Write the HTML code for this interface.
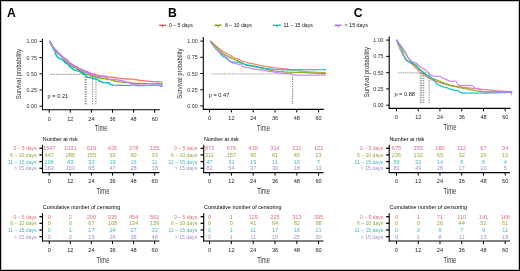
<!DOCTYPE html>
<html><head><meta charset="utf-8"><style>
html,body{margin:0;padding:0;background:#fff;}
#w{will-change:transform;width:520px;height:271px;}
svg{display:block;font-family:"Liberation Sans",sans-serif;}
</style></head><body>
<div id="w"><svg width="520" height="271" viewBox="0 0 520 271">
<rect x="0.5" y="0.5" width="519" height="270" fill="#fff" stroke="#000" stroke-width="1"/>
<rect x="1.5" y="1.5" width="517" height="268" fill="none" stroke="#c4c4c4" stroke-width="1"/>
<text x="7.00" y="16.50" font-size="12.2" fill="#000" font-weight="bold">A</text>
<line x1="42.50" y1="38.70" x2="42.50" y2="110.30" stroke="#000" stroke-width="1.1"/>
<line x1="42.00" y1="109.70" x2="159.80" y2="109.70" stroke="#000" stroke-width="1.1"/>
<line x1="39.50" y1="41.40" x2="42.50" y2="41.40" stroke="#000" stroke-width="1.0"/>
<text x="36.90" y="43.45" font-size="5.7" fill="#333" text-anchor="end" textLength="10.4" lengthAdjust="spacingAndGlyphs">1.00</text>
<line x1="39.50" y1="57.60" x2="42.50" y2="57.60" stroke="#000" stroke-width="1.0"/>
<text x="36.90" y="59.65" font-size="5.7" fill="#333" text-anchor="end" textLength="10.4" lengthAdjust="spacingAndGlyphs">0.75</text>
<line x1="39.50" y1="73.80" x2="42.50" y2="73.80" stroke="#000" stroke-width="1.0"/>
<text x="36.90" y="75.85" font-size="5.7" fill="#333" text-anchor="end" textLength="10.4" lengthAdjust="spacingAndGlyphs">0.50</text>
<line x1="39.50" y1="90.00" x2="42.50" y2="90.00" stroke="#000" stroke-width="1.0"/>
<text x="36.90" y="92.05" font-size="5.7" fill="#333" text-anchor="end" textLength="10.4" lengthAdjust="spacingAndGlyphs">0.25</text>
<line x1="39.50" y1="106.20" x2="42.50" y2="106.20" stroke="#000" stroke-width="1.0"/>
<text x="36.90" y="108.25" font-size="5.7" fill="#333" text-anchor="end" textLength="10.4" lengthAdjust="spacingAndGlyphs">0.00</text>
<line x1="49.20" y1="109.70" x2="49.20" y2="112.70" stroke="#000" stroke-width="1.0"/>
<text x="49.20" y="120.70" font-size="5.5" fill="#222" text-anchor="middle">0</text>
<line x1="70.30" y1="109.70" x2="70.30" y2="112.70" stroke="#000" stroke-width="1.0"/>
<text x="70.30" y="120.70" font-size="5.5" fill="#222" text-anchor="middle">12</text>
<line x1="91.40" y1="109.70" x2="91.40" y2="112.70" stroke="#000" stroke-width="1.0"/>
<text x="91.40" y="120.70" font-size="5.5" fill="#222" text-anchor="middle">24</text>
<line x1="112.50" y1="109.70" x2="112.50" y2="112.70" stroke="#000" stroke-width="1.0"/>
<text x="112.50" y="120.70" font-size="5.5" fill="#222" text-anchor="middle">36</text>
<line x1="133.60" y1="109.70" x2="133.60" y2="112.70" stroke="#000" stroke-width="1.0"/>
<text x="133.60" y="120.70" font-size="5.5" fill="#222" text-anchor="middle">48</text>
<line x1="154.70" y1="109.70" x2="154.70" y2="112.70" stroke="#000" stroke-width="1.0"/>
<text x="154.70" y="120.70" font-size="5.5" fill="#222" text-anchor="middle">60</text>
<text x="0" y="0" font-size="7.7" fill="#2a2a2a" text-anchor="middle" textLength="50.2" lengthAdjust="spacingAndGlyphs" transform="translate(21.30,74.20) rotate(-90)">Survival probability</text>
<text x="101.20" y="131.00" font-size="8.8" fill="#3a3a3a" text-anchor="middle" textLength="12.8" lengthAdjust="spacingAndGlyphs">Time</text>
<line x1="50.40" y1="74.30" x2="96.00" y2="74.30" stroke="#666" stroke-width="0.7" stroke-dasharray="2,0.8"/>
<line x1="85.20" y1="74.30" x2="85.20" y2="104.50" stroke="#555" stroke-width="0.8" stroke-dasharray="1.2,1.2"/>
<line x1="86.10" y1="74.30" x2="86.10" y2="104.50" stroke="#555" stroke-width="0.8" stroke-dasharray="1.2,1.2"/>
<line x1="92.60" y1="74.30" x2="92.60" y2="104.50" stroke="#555" stroke-width="0.8" stroke-dasharray="1.2,1.2"/>
<line x1="95.90" y1="74.30" x2="95.90" y2="104.50" stroke="#555" stroke-width="0.8" stroke-dasharray="1.2,1.2"/>
<path d="M49.40,41.40 H49.75 V42.03 H50.05 V42.58 H50.35 V43.13 H50.71 V43.79 H51.10 V44.50 H51.49 V45.22 H52.02 V46.04 H52.45 V46.62 H52.98 V47.33 H53.59 V48.17 H53.99 V48.71 H54.48 V49.37 H54.91 V49.93 H55.34 V50.48 H55.92 V51.24 H56.58 V52.09 H57.22 V52.92 H58.07 V53.60 H58.89 V54.26 H59.71 V54.92 H60.39 V55.47 H61.29 V56.19 H62.42 V57.04 H63.33 V57.68 H64.11 V58.22 H65.00 V58.85 H66.19 V59.68 H67.13 V60.55 H67.75 V61.19 H68.50 V61.96 H69.29 V62.78 H70.09 V63.42 H70.97 V63.99 H71.89 V64.59 H73.20 V65.45 H74.56 V66.28 H75.76 V66.88 H77.39 V67.69 H78.73 V68.37 H80.17 V69.07 H81.08 V69.52 H82.46 V70.19 H83.63 V70.75 H85.91 V71.64 H87.55 V72.28 H88.67 V72.71 H90.22 V73.26 H91.83 V73.84 H94.39 V74.74 H95.84 V75.02 H97.14 V75.28 H98.99 V75.63 H100.22 V75.81 H102.10 V76.09 H104.20 V76.38 H106.19 V76.59 H107.10 V76.69 H109.14 V76.91 H110.49 V77.09 H112.16 V77.41 H114.52 V77.83 H116.90 V78.09 H118.02 V78.21 H119.08 V78.32 H121.26 V78.56 H122.89 V78.73 H124.99 V78.89 H126.99 V79.01 H129.58 V79.16 H131.94 V79.30 H134.53 V79.66 H136.96 V80.00 H138.83 V80.27 H140.42 V80.49 H141.60 V80.64 H143.93 V80.86 H145.66 V81.03 H147.39 V81.20 H148.79 V81.33 H150.25 V81.48 H152.01 V81.58 H154.00 V81.69 H155.43 V81.77 H156.58 V81.83 H158.49 V81.93 H161.00 V82.00 H162.40 V82.00" fill="none" stroke="#F8766D" stroke-width="1.1" stroke-linejoin="miter" stroke-linecap="butt"/>
<path d="M55.2,49.6v1.4M58.5,53.2v1.4M59.9,54.4v1.4M62.8,56.6v1.4M65.0,58.2v1.4M66.1,58.9v1.4M67.5,60.2v1.4M70.2,62.8v1.4M73.1,64.7v1.4M74.4,65.5v1.4M77.0,66.8v1.4M80.1,68.3v1.4M81.6,69.1v1.4M84.6,70.4v1.4M85.9,70.9v1.4M87.2,71.5v1.4M90.1,72.5v1.4M93.2,73.6v1.4M95.8,74.3v1.4M98.0,74.7v1.4M100.5,75.2v1.4M102.8,75.5v1.4M105.2,75.8v1.4M108.4,76.1v1.4M110.5,76.4v1.4M112.1,76.7v1.4M113.7,77.0v1.4M115.9,77.3v1.4M118.7,77.6v1.4M120.6,77.8v1.4M122.2,78.0v1.4M123.5,78.1v1.4M126.2,78.3v1.4M127.2,78.3v1.4M129.1,78.4v1.4M130.5,78.5v1.4M133.2,78.8v1.4M135.9,79.1v1.4M138.5,79.5v1.4M139.7,79.7v1.4M141.3,79.9v1.4M143.0,80.1v1.4M146.1,80.4v1.4M149.3,80.7v1.4M152.1,80.9v1.4M154.4,81.0v1.4M156.4,81.1v1.4M158.8,81.3v1.4M161.1,81.3v1.4" stroke="#F8766D" stroke-width="0.5"/>
<path d="M49.40,41.40 H49.81 V42.23 H50.19 V42.97 H50.57 V43.73 H50.90 V44.39 H51.19 V44.98 H51.48 V45.57 H51.93 V46.26 H52.63 V47.06 H53.16 V47.66 H53.75 V48.34 H54.43 V49.12 H55.07 V49.79 H55.92 V50.67 H56.76 V51.54 H57.43 V52.23 H58.05 V52.85 H58.93 V53.73 H59.82 V54.62 H60.45 V55.25 H61.07 V55.87 H61.79 V56.59 H62.34 V57.42 H62.88 V58.25 H63.39 V59.03 H63.78 V59.63 H64.18 V60.24 H64.64 V60.94 H65.23 V61.68 H66.16 V62.41 H66.88 V62.97 H67.76 V63.66 H68.49 V64.23 H69.44 V64.97 H70.84 V65.75 H72.37 V66.54 H73.89 V67.34 H75.30 V68.14 H76.56 V68.88 H77.47 V69.42 H78.58 V70.07 H79.60 V70.59 H81.14 V71.35 H82.65 V72.08 H84.12 V72.69 H85.07 V72.98 H87.52 V73.72 H88.70 V74.58 H89.22 V75.17 H90.63 V75.91 H93.00 V76.63 H95.26 V77.21 H97.31 V77.61 H99.35 V78.00 H101.44 V78.41 H103.12 V78.73 H105.64 V79.13 H106.71 V79.29 H108.30 V79.54 H109.83 V79.77 H111.56 V80.28 H113.88 V81.00 H114.91 V81.21 H116.52 V81.45 H118.17 V81.70 H119.72 V81.93 H121.66 V82.22 H123.74 V82.52 H125.71 V82.67 H127.47 V82.80 H128.99 V82.92 H131.57 V83.11 H133.86 V83.24 H135.88 V83.32 H136.93 V83.36 H138.49 V83.42 H140.57 V83.50 H141.79 V83.55 H143.42 V83.61 H145.06 V83.67 H146.19 V83.70 H148.52 V83.72 H150.93 V83.73 H152.31 V83.74 H153.48 V83.75 H154.82 V83.75 H156.94 V83.77 H158.21 V83.77 H160.37 V83.79 H162.40 V83.80" fill="none" stroke="#7CAE00" stroke-width="1.1" stroke-linejoin="miter" stroke-linecap="butt"/>
<path d="M55.2,49.2v1.4M56.4,50.5v1.4M59.0,53.1v1.4M61.7,55.8v1.4M64.1,59.4v1.4M66.6,62.1v1.4M68.3,63.4v1.4M69.6,64.4v1.4M72.8,66.1v1.4M74.2,66.8v1.4M77.3,68.6v1.4M80.2,70.2v1.4M82.1,71.1v1.4M84.2,72.0v1.4M85.9,72.5v1.4M87.4,73.0v1.4M90.3,75.1v1.4M91.5,75.5v1.4M93.0,75.9v1.4M96.3,76.7v1.4M98.1,77.1v1.4M100.5,77.5v1.4M102.9,78.0v1.4M105.5,78.4v1.4M108.5,78.9v1.4M111.3,79.5v1.4M113.0,80.0v1.4M114.8,80.5v1.4M118.1,81.0v1.4M121.2,81.5v1.4M123.2,81.8v1.4M124.9,81.9v1.4M126.8,82.1v1.4M129.7,82.3v1.4M131.3,82.4v1.4M132.4,82.5v1.4M133.6,82.5v1.4M135.1,82.6v1.4M138.2,82.7v1.4M139.5,82.8v1.4M140.8,82.8v1.4M143.6,82.9v1.4M146.6,83.0v1.4M149.9,83.0v1.4M153.0,83.0v1.4M156.2,83.1v1.4M159.1,83.1v1.4" stroke="#7CAE00" stroke-width="0.5"/>
<path d="M49.40,41.40 H49.74 V42.01 H50.19 V42.81 H50.62 V43.58 H51.10 V44.43 H51.57 V45.27 H51.86 V45.83 H52.19 V46.51 H52.46 V47.06 H52.85 V47.87 H53.18 V48.54 H53.55 V49.28 H53.90 V49.86 H54.32 V50.55 H54.78 V51.30 H55.09 V52.38 H55.42 V53.85 H55.76 V54.52 H56.21 V55.41 H56.62 V56.24 H57.35 V57.05 H58.19 V57.75 H59.08 V58.48 H60.59 V59.22 H61.67 V59.74 H63.00 V60.61 H64.01 V61.30 H64.58 V61.69 H64.88 V62.46 H65.79 V63.20 H67.04 V63.82 H67.97 V64.55 H68.36 V65.38 H68.96 V66.27 H69.84 V66.83 H71.00 V67.58 H71.92 V68.34 H72.46 V68.91 H73.22 V69.72 H74.70 V70.50 H75.87 V70.81 H78.12 V71.22 H79.27 V71.82 H80.81 V72.60 H82.31 V73.34 H83.53 V73.92 H84.49 V74.67 H85.43 V75.43 H86.04 V76.04 H86.87 V76.87 H87.91 V77.52 H89.53 V77.76 H90.58 V77.92 H92.00 V78.27 H92.91 V78.49 H94.37 V78.86 H96.16 V79.50 H97.40 V80.06 H98.75 V80.92 H99.74 V81.56 H101.00 V82.00 H102.34 V82.45 H103.92 V82.75 H106.12 V82.84 H107.62 V82.54 H108.87 V83.41 H109.76 V84.16 H110.44 V84.72 H112.80 V85.23 H114.72 V85.27 H116.89 V85.31 H118.83 V85.35 H120.42 V85.38 H121.49 V85.40 H122.63 V85.42 H123.83 V85.44 H125.03 V85.46 H126.18 V85.48 H127.43 V85.46 H129.28 V85.23 H131.49 V84.95 H133.75 V85.04 H136.09 V85.58 H137.19 V85.69 H139.48 V85.64 H140.70 V85.61 H141.72 V85.59 H143.11 V85.56 H145.01 V85.52 H145.99 V85.49 H147.26 V85.44 H148.84 V85.37 H151.13 V85.28 H152.71 V85.21 H154.32 V85.14 H155.85 V85.08 H156.90 V85.03 H159.30 V84.93 H161.77 V84.83 H162.40 V84.80" fill="none" stroke="#00BFC4" stroke-width="1.1" stroke-linejoin="miter" stroke-linecap="butt"/>
<path d="M55.2,52.2v1.4M57.1,56.2v1.4M59.2,57.8v1.4M60.9,58.7v1.4M63.4,60.2v1.4M65.9,62.6v1.4M67.7,63.4v1.4M70.7,66.7v1.4M73.4,69.1v1.4M74.9,69.9v1.4M77.8,70.4v1.4M80.4,71.7v1.4M81.9,72.5v1.4M83.6,73.3v1.4M86.4,75.7v1.4M87.6,76.7v1.4M89.6,77.1v1.4M92.8,77.8v1.4M94.4,78.2v1.4M96.6,79.0v1.4M99.7,80.9v1.4M102.8,81.8v1.4M105.6,82.2v1.4M107.9,81.9v1.4M111.0,84.5v1.4M112.6,84.5v1.4M115.7,84.6v1.4M117.6,84.6v1.4M120.2,84.7v1.4M122.6,84.7v1.4M124.3,84.7v1.4M126.8,84.8v1.4M129.3,84.5v1.4M132.6,84.1v1.4M135.1,84.7v1.4M137.1,85.0v1.4M139.0,84.9v1.4M142.1,84.9v1.4M143.9,84.8v1.4M146.5,84.8v1.4M149.1,84.7v1.4M152.3,84.5v1.4M153.8,84.5v1.4M156.3,84.4v1.4M157.7,84.3v1.4M160.2,84.2v1.4" stroke="#00BFC4" stroke-width="0.5"/>
<path d="M49.40,41.40 H49.90 V42.28 H50.31 V43.02 H50.77 V43.84 H51.10 V44.43 H51.53 V45.20 H52.00 V45.96 H52.37 V46.54 H52.74 V47.12 H53.21 V47.86 H53.79 V48.65 H54.47 V49.47 H54.98 V50.09 H55.66 V50.90 H56.26 V51.61 H56.77 V52.23 H57.25 V52.79 H57.77 V53.41 H58.37 V54.02 H59.03 V54.56 H60.10 V55.44 H60.93 V56.12 H61.92 V56.97 H62.66 V57.61 H63.57 V58.39 H64.19 V59.15 H64.82 V59.96 H65.83 V60.81 H66.58 V61.37 H67.53 V62.07 H68.34 V62.67 H69.10 V63.23 H70.02 V63.87 H70.98 V64.47 H71.95 V65.08 H73.13 V65.83 H74.07 V66.42 H75.39 V67.09 H76.64 V67.72 H78.12 V68.46 H79.24 V69.02 H80.43 V69.60 H81.36 V70.05 H82.96 V70.84 H84.35 V71.53 H85.86 V72.30 H87.45 V73.11 H88.97 V73.88 H91.14 V74.67 H92.56 V75.10 H93.52 V75.39 H95.68 V75.89 H97.23 V76.19 H98.20 V76.38 H99.60 V76.58 H100.77 V76.71 H103.36 V76.99 H104.69 V77.12 H106.42 V77.31 H107.39 V77.57 H107.69 V78.19 H108.07 V78.95 H109.01 V79.27 H110.93 V79.43 H113.28 V79.62 H114.99 V79.80 H116.82 V80.02 H119.31 V80.32 H120.92 V80.52 H122.77 V81.19 H125.17 V82.07 H127.21 V82.26 H128.98 V82.42 H130.45 V82.93 H131.15 V83.48 H132.47 V84.35 H134.62 V84.73 H135.88 V84.83 H137.29 V84.88 H139.10 V84.95 H140.19 V84.99 H142.40 V85.07 H143.75 V85.12 H145.15 V85.18 H146.51 V85.20 H147.78 V85.20 H150.11 V85.20 H151.64 V85.20 H152.69 V85.20 H154.95 V85.20 H157.18 V85.20 H158.18 V85.20 H159.32 V85.76 H160.29 V86.41 H162.05 V85.20 H162.40 V85.20" fill="none" stroke="#C77CFF" stroke-width="1.1" stroke-linejoin="miter" stroke-linecap="butt"/>
<path d="M55.2,49.7v1.4M56.8,51.6v1.4M59.7,54.4v1.4M61.1,55.5v1.4M62.8,57.1v1.4M64.8,59.3v1.4M66.8,60.8v1.4M69.1,62.5v1.4M71.4,64.0v1.4M72.8,64.9v1.4M73.9,65.6v1.4M75.8,66.6v1.4M77.6,67.5v1.4M79.6,68.5v1.4M80.8,69.1v1.4M83.8,70.5v1.4M85.0,71.2v1.4M86.3,71.8v1.4M88.3,72.9v1.4M90.7,73.8v1.4M91.9,74.2v1.4M94.9,75.0v1.4M97.0,75.4v1.4M99.6,75.9v1.4M101.6,76.1v1.4M103.7,76.3v1.4M105.6,76.5v1.4M107.5,77.2v1.4M109.5,78.6v1.4M112.0,78.8v1.4M114.7,79.1v1.4M117.0,79.3v1.4M118.3,79.5v1.4M119.8,79.7v1.4M121.9,80.1v1.4M123.5,80.8v1.4M125.3,81.4v1.4M128.1,81.6v1.4M131.3,82.9v1.4M132.5,83.7v1.4M134.1,83.9v1.4M136.2,84.1v1.4M137.5,84.2v1.4M140.4,84.3v1.4M143.7,84.4v1.4M146.5,84.5v1.4M149.3,84.5v1.4M151.0,84.5v1.4M152.5,84.5v1.4M153.7,84.5v1.4M155.8,84.5v1.4M157.7,84.5v1.4M158.9,84.6v1.4M161.5,84.5v1.4" stroke="#C77CFF" stroke-width="0.5"/>
<text x="47.60" y="97.60" font-size="5.7" fill="#1a1a1a" textLength="20.6" lengthAdjust="spacingAndGlyphs">p = 0.21</text>
<text x="42.80" y="140.50" font-size="5.0" fill="#000" textLength="34.8" lengthAdjust="spacingAndGlyphs">Number at risk</text>
<line x1="42.50" y1="144.80" x2="42.50" y2="173.10" stroke="#000" stroke-width="1.1"/>
<line x1="42.00" y1="172.60" x2="159.40" y2="172.60" stroke="#000" stroke-width="1.1"/>
<line x1="39.40" y1="148.30" x2="42.50" y2="148.30" stroke="#000" stroke-width="1.3"/>
<text x="36.60" y="150.30" font-size="6.0" fill="#E0707A" text-anchor="end" textLength="23.2" lengthAdjust="spacingAndGlyphs">0 – 5 days</text>
<text x="49.20" y="150.30" font-size="5.6" fill="#E0707A" text-anchor="middle">1547</text>
<text x="70.30" y="150.30" font-size="5.6" fill="#E0707A" text-anchor="middle">1031</text>
<text x="91.40" y="150.30" font-size="5.6" fill="#E0707A" text-anchor="middle">619</text>
<text x="112.50" y="150.30" font-size="5.6" fill="#E0707A" text-anchor="middle">426</text>
<text x="133.60" y="150.30" font-size="5.6" fill="#E0707A" text-anchor="middle">278</text>
<text x="154.70" y="150.30" font-size="5.6" fill="#E0707A" text-anchor="middle">155</text>
<line x1="39.40" y1="154.90" x2="42.50" y2="154.90" stroke="#000" stroke-width="1.3"/>
<text x="36.60" y="156.90" font-size="6.0" fill="#8FAE3A" text-anchor="end" textLength="26.3" lengthAdjust="spacingAndGlyphs">6 – 10 days</text>
<text x="49.20" y="156.90" font-size="5.6" fill="#8FAE3A" text-anchor="middle">447</text>
<text x="70.30" y="156.90" font-size="5.6" fill="#8FAE3A" text-anchor="middle">289</text>
<text x="91.40" y="156.90" font-size="5.6" fill="#8FAE3A" text-anchor="middle">155</text>
<text x="112.50" y="156.90" font-size="5.6" fill="#8FAE3A" text-anchor="middle">93</text>
<text x="133.60" y="156.90" font-size="5.6" fill="#8FAE3A" text-anchor="middle">60</text>
<text x="154.70" y="156.90" font-size="5.6" fill="#8FAE3A" text-anchor="middle">33</text>
<line x1="39.40" y1="161.60" x2="42.50" y2="161.60" stroke="#000" stroke-width="1.3"/>
<text x="36.60" y="163.60" font-size="6.0" fill="#4DB8C6" text-anchor="end" textLength="28.9" lengthAdjust="spacingAndGlyphs">11 – 15 days</text>
<text x="49.20" y="163.60" font-size="5.6" fill="#4DB8C6" text-anchor="middle">106</text>
<text x="70.30" y="163.60" font-size="5.6" fill="#4DB8C6" text-anchor="middle">63</text>
<text x="91.40" y="163.60" font-size="5.6" fill="#4DB8C6" text-anchor="middle">33</text>
<text x="112.50" y="163.60" font-size="5.6" fill="#4DB8C6" text-anchor="middle">19</text>
<text x="133.60" y="163.60" font-size="5.6" fill="#4DB8C6" text-anchor="middle">16</text>
<text x="154.70" y="163.60" font-size="5.6" fill="#4DB8C6" text-anchor="middle">11</text>
<line x1="39.40" y1="168.30" x2="42.50" y2="168.30" stroke="#000" stroke-width="1.3"/>
<text x="36.60" y="170.30" font-size="6.0" fill="#A98AD6" text-anchor="end" textLength="22.6" lengthAdjust="spacingAndGlyphs">> 15 days</text>
<text x="49.20" y="170.30" font-size="5.6" fill="#A98AD6" text-anchor="middle">163</text>
<text x="70.30" y="170.30" font-size="5.6" fill="#A98AD6" text-anchor="middle">103</text>
<text x="91.40" y="170.30" font-size="5.6" fill="#A98AD6" text-anchor="middle">65</text>
<text x="112.50" y="170.30" font-size="5.6" fill="#A98AD6" text-anchor="middle">47</text>
<text x="133.60" y="170.30" font-size="5.6" fill="#A98AD6" text-anchor="middle">28</text>
<text x="154.70" y="170.30" font-size="5.6" fill="#A98AD6" text-anchor="middle">18</text>
<line x1="49.20" y1="172.60" x2="49.20" y2="175.60" stroke="#000" stroke-width="1.0"/>
<text x="49.20" y="183.30" font-size="5.6" fill="#222" text-anchor="middle">0</text>
<line x1="70.30" y1="172.60" x2="70.30" y2="175.60" stroke="#000" stroke-width="1.0"/>
<text x="70.30" y="183.30" font-size="5.6" fill="#222" text-anchor="middle">12</text>
<line x1="91.40" y1="172.60" x2="91.40" y2="175.60" stroke="#000" stroke-width="1.0"/>
<text x="91.40" y="183.30" font-size="5.6" fill="#222" text-anchor="middle">24</text>
<line x1="112.50" y1="172.60" x2="112.50" y2="175.60" stroke="#000" stroke-width="1.0"/>
<text x="112.50" y="183.30" font-size="5.6" fill="#222" text-anchor="middle">36</text>
<line x1="133.60" y1="172.60" x2="133.60" y2="175.60" stroke="#000" stroke-width="1.0"/>
<text x="133.60" y="183.30" font-size="5.6" fill="#222" text-anchor="middle">48</text>
<line x1="154.70" y1="172.60" x2="154.70" y2="175.60" stroke="#000" stroke-width="1.0"/>
<text x="154.70" y="183.30" font-size="5.6" fill="#222" text-anchor="middle">60</text>
<text x="103.00" y="194.10" font-size="8.8" fill="#3a3a3a" text-anchor="middle" textLength="12.9" lengthAdjust="spacingAndGlyphs">Time</text>
<text x="42.80" y="208.90" font-size="5.0" fill="#000" textLength="77.5" lengthAdjust="spacingAndGlyphs">Cumulative number of censoring</text>
<line x1="42.50" y1="213.20" x2="42.50" y2="241.50" stroke="#000" stroke-width="1.1"/>
<line x1="42.00" y1="241.00" x2="159.40" y2="241.00" stroke="#000" stroke-width="1.1"/>
<line x1="39.40" y1="216.70" x2="42.50" y2="216.70" stroke="#000" stroke-width="1.3"/>
<text x="36.60" y="218.70" font-size="6.0" fill="#E0707A" text-anchor="end" textLength="23.2" lengthAdjust="spacingAndGlyphs">0 – 5 days</text>
<text x="49.20" y="218.70" font-size="5.6" fill="#E0707A" text-anchor="middle">0</text>
<text x="70.30" y="218.70" font-size="5.6" fill="#E0707A" text-anchor="middle">2</text>
<text x="91.40" y="218.70" font-size="5.6" fill="#E0707A" text-anchor="middle">200</text>
<text x="112.50" y="218.70" font-size="5.6" fill="#E0707A" text-anchor="middle">335</text>
<text x="133.60" y="218.70" font-size="5.6" fill="#E0707A" text-anchor="middle">454</text>
<text x="154.70" y="218.70" font-size="5.6" fill="#E0707A" text-anchor="middle">561</text>
<line x1="39.40" y1="223.30" x2="42.50" y2="223.30" stroke="#000" stroke-width="1.3"/>
<text x="36.60" y="225.30" font-size="6.0" fill="#8FAE3A" text-anchor="end" textLength="26.3" lengthAdjust="spacingAndGlyphs">6 – 10 days</text>
<text x="49.20" y="225.30" font-size="5.6" fill="#8FAE3A" text-anchor="middle">0</text>
<text x="70.30" y="225.30" font-size="5.6" fill="#8FAE3A" text-anchor="middle">0</text>
<text x="91.40" y="225.30" font-size="5.6" fill="#8FAE3A" text-anchor="middle">67</text>
<text x="112.50" y="225.30" font-size="5.6" fill="#8FAE3A" text-anchor="middle">108</text>
<text x="133.60" y="225.30" font-size="5.6" fill="#8FAE3A" text-anchor="middle">134</text>
<text x="154.70" y="225.30" font-size="5.6" fill="#8FAE3A" text-anchor="middle">159</text>
<line x1="39.40" y1="230.00" x2="42.50" y2="230.00" stroke="#000" stroke-width="1.3"/>
<text x="36.60" y="232.00" font-size="6.0" fill="#4DB8C6" text-anchor="end" textLength="28.9" lengthAdjust="spacingAndGlyphs">11 – 15 days</text>
<text x="49.20" y="232.00" font-size="5.6" fill="#4DB8C6" text-anchor="middle">0</text>
<text x="70.30" y="232.00" font-size="5.6" fill="#4DB8C6" text-anchor="middle">1</text>
<text x="91.40" y="232.00" font-size="5.6" fill="#4DB8C6" text-anchor="middle">17</text>
<text x="112.50" y="232.00" font-size="5.6" fill="#4DB8C6" text-anchor="middle">24</text>
<text x="133.60" y="232.00" font-size="5.6" fill="#4DB8C6" text-anchor="middle">27</text>
<text x="154.70" y="232.00" font-size="5.6" fill="#4DB8C6" text-anchor="middle">32</text>
<line x1="39.40" y1="236.70" x2="42.50" y2="236.70" stroke="#000" stroke-width="1.3"/>
<text x="36.60" y="238.70" font-size="6.0" fill="#A98AD6" text-anchor="end" textLength="22.6" lengthAdjust="spacingAndGlyphs">> 15 days</text>
<text x="49.20" y="238.70" font-size="5.6" fill="#A98AD6" text-anchor="middle">0</text>
<text x="70.30" y="238.70" font-size="5.6" fill="#A98AD6" text-anchor="middle">2</text>
<text x="91.40" y="238.70" font-size="5.6" fill="#A98AD6" text-anchor="middle">19</text>
<text x="112.50" y="238.70" font-size="5.6" fill="#A98AD6" text-anchor="middle">26</text>
<text x="133.60" y="238.70" font-size="5.6" fill="#A98AD6" text-anchor="middle">38</text>
<text x="154.70" y="238.70" font-size="5.6" fill="#A98AD6" text-anchor="middle">48</text>
<line x1="49.20" y1="241.00" x2="49.20" y2="244.00" stroke="#000" stroke-width="1.0"/>
<text x="49.20" y="251.70" font-size="5.6" fill="#222" text-anchor="middle">0</text>
<line x1="70.30" y1="241.00" x2="70.30" y2="244.00" stroke="#000" stroke-width="1.0"/>
<text x="70.30" y="251.70" font-size="5.6" fill="#222" text-anchor="middle">12</text>
<line x1="91.40" y1="241.00" x2="91.40" y2="244.00" stroke="#000" stroke-width="1.0"/>
<text x="91.40" y="251.70" font-size="5.6" fill="#222" text-anchor="middle">24</text>
<line x1="112.50" y1="241.00" x2="112.50" y2="244.00" stroke="#000" stroke-width="1.0"/>
<text x="112.50" y="251.70" font-size="5.6" fill="#222" text-anchor="middle">36</text>
<line x1="133.60" y1="241.00" x2="133.60" y2="244.00" stroke="#000" stroke-width="1.0"/>
<text x="133.60" y="251.70" font-size="5.6" fill="#222" text-anchor="middle">48</text>
<line x1="154.70" y1="241.00" x2="154.70" y2="244.00" stroke="#000" stroke-width="1.0"/>
<text x="154.70" y="251.70" font-size="5.6" fill="#222" text-anchor="middle">60</text>
<text x="103.00" y="262.50" font-size="8.8" fill="#3a3a3a" text-anchor="middle" textLength="12.9" lengthAdjust="spacingAndGlyphs">Time</text>
<text x="168.00" y="16.50" font-size="12.2" fill="#000" font-weight="bold">B</text>
<line x1="203.30" y1="37.00" x2="203.30" y2="110.00" stroke="#000" stroke-width="1.1"/>
<line x1="202.80" y1="109.40" x2="323.80" y2="109.40" stroke="#000" stroke-width="1.1"/>
<line x1="200.30" y1="41.10" x2="203.30" y2="41.10" stroke="#000" stroke-width="1.0"/>
<text x="197.70" y="43.15" font-size="5.7" fill="#333" text-anchor="end" textLength="10.4" lengthAdjust="spacingAndGlyphs">1.00</text>
<line x1="200.30" y1="57.30" x2="203.30" y2="57.30" stroke="#000" stroke-width="1.0"/>
<text x="197.70" y="59.35" font-size="5.7" fill="#333" text-anchor="end" textLength="10.4" lengthAdjust="spacingAndGlyphs">0.75</text>
<line x1="200.30" y1="73.50" x2="203.30" y2="73.50" stroke="#000" stroke-width="1.0"/>
<text x="197.70" y="75.55" font-size="5.7" fill="#333" text-anchor="end" textLength="10.4" lengthAdjust="spacingAndGlyphs">0.50</text>
<line x1="200.30" y1="89.70" x2="203.30" y2="89.70" stroke="#000" stroke-width="1.0"/>
<text x="197.70" y="91.75" font-size="5.7" fill="#333" text-anchor="end" textLength="10.4" lengthAdjust="spacingAndGlyphs">0.25</text>
<line x1="200.30" y1="105.90" x2="203.30" y2="105.90" stroke="#000" stroke-width="1.0"/>
<text x="197.70" y="107.95" font-size="5.7" fill="#333" text-anchor="end" textLength="10.4" lengthAdjust="spacingAndGlyphs">0.00</text>
<line x1="209.60" y1="109.40" x2="209.60" y2="112.40" stroke="#000" stroke-width="1.0"/>
<text x="209.60" y="120.40" font-size="5.5" fill="#222" text-anchor="middle">0</text>
<line x1="231.40" y1="109.40" x2="231.40" y2="112.40" stroke="#000" stroke-width="1.0"/>
<text x="231.40" y="120.40" font-size="5.5" fill="#222" text-anchor="middle">12</text>
<line x1="253.20" y1="109.40" x2="253.20" y2="112.40" stroke="#000" stroke-width="1.0"/>
<text x="253.20" y="120.40" font-size="5.5" fill="#222" text-anchor="middle">24</text>
<line x1="275.00" y1="109.40" x2="275.00" y2="112.40" stroke="#000" stroke-width="1.0"/>
<text x="275.00" y="120.40" font-size="5.5" fill="#222" text-anchor="middle">36</text>
<line x1="296.80" y1="109.40" x2="296.80" y2="112.40" stroke="#000" stroke-width="1.0"/>
<text x="296.80" y="120.40" font-size="5.5" fill="#222" text-anchor="middle">48</text>
<line x1="318.60" y1="109.40" x2="318.60" y2="112.40" stroke="#000" stroke-width="1.0"/>
<text x="318.60" y="120.40" font-size="5.5" fill="#222" text-anchor="middle">60</text>
<text x="0" y="0" font-size="7.7" fill="#2a2a2a" text-anchor="middle" textLength="50.2" lengthAdjust="spacingAndGlyphs" transform="translate(182.30,73.60) rotate(-90)">Survival probability</text>
<text x="263.50" y="130.70" font-size="8.8" fill="#3a3a3a" text-anchor="middle" textLength="12.8" lengthAdjust="spacingAndGlyphs">Time</text>
<line x1="211.10" y1="73.90" x2="292.60" y2="73.90" stroke="#bbb" stroke-width="1.3" stroke-dasharray="1.8,0.8"/>
<line x1="292.60" y1="73.90" x2="292.60" y2="103.90" stroke="#444" stroke-width="0.8" stroke-dasharray="1.2,1.2"/>
<path d="M210.20,41.20 H211.22 V42.08 H212.20 V42.93 H212.99 V43.62 H213.99 V44.48 H214.79 V45.17 H215.64 V45.90 H216.31 V46.48 H217.09 V47.15 H217.98 V47.93 H218.61 V48.47 H219.62 V49.35 H220.74 V50.23 H221.55 V50.85 H222.56 V51.53 H224.08 V52.42 H225.27 V53.11 H226.55 V53.84 H228.23 V54.72 H229.28 V55.27 H230.36 V55.85 H231.76 V56.67 H232.68 V57.21 H234.21 V58.11 H235.65 V58.68 H237.76 V59.52 H239.84 V60.38 H241.38 V61.02 H242.63 V61.50 H244.07 V61.93 H245.79 V62.45 H247.21 V62.79 H248.61 V63.09 H249.85 V63.35 H252.31 V63.87 H254.86 V64.41 H257.25 V64.92 H259.50 V65.39 H261.09 V65.71 H262.52 V65.99 H264.11 V66.30 H265.04 V66.45 H266.14 V66.62 H267.84 V66.90 H269.45 V67.15 H271.46 V67.47 H273.31 V67.77 H274.38 V67.89 H276.72 V68.11 H278.35 V68.27 H280.06 V68.44 H281.59 V68.59 H283.12 V68.73 H285.58 V68.97 H288.12 V69.31 H289.33 V69.52 H291.79 V69.95 H294.07 V70.34 H296.37 V70.65 H297.75 V70.80 H300.18 V71.06 H302.07 V71.26 H303.75 V71.44 H304.71 V71.54 H306.49 V71.73 H307.68 V71.83 H309.07 V71.90 H311.44 V72.03 H312.93 V72.10 H315.21 V72.22 H316.74 V72.30 H317.83 V72.36 H319.41 V72.44 H320.59 V72.50 H321.75 V72.56 H323.80 V72.68 H325.88 V72.79 H326.00 V72.80" fill="none" stroke="#F8766D" stroke-width="1.0" stroke-linejoin="miter" stroke-linecap="butt"/>
<path d="M215.6,45.2v1.4M218.3,47.5v1.4M220.6,49.4v1.4M221.8,50.3v1.4M223.0,51.1v1.4M225.7,52.6v1.4M228.8,54.3v1.4M231.7,55.9v1.4M234.1,57.3v1.4M235.3,57.8v1.4M238.0,58.9v1.4M239.1,59.4v1.4M242.0,60.6v1.4M243.2,61.0v1.4M246.4,61.9v1.4M248.6,62.4v1.4M250.1,62.7v1.4M251.3,63.0v1.4M252.9,63.3v1.4M255.5,63.9v1.4M257.2,64.2v1.4M258.4,64.5v1.4M261.1,65.0v1.4M262.5,65.3v1.4M263.9,65.6v1.4M265.4,65.8v1.4M266.7,66.0v1.4M268.3,66.3v1.4M269.5,66.5v1.4M270.5,66.6v1.4M271.8,66.8v1.4M273.7,67.1v1.4M276.8,67.4v1.4M279.8,67.7v1.4M282.1,67.9v1.4M283.5,68.1v1.4M286.6,68.4v1.4M288.3,68.6v1.4M290.5,69.0v1.4M292.8,69.4v1.4M294.8,69.8v1.4M296.3,69.9v1.4M299.4,70.3v1.4M300.6,70.4v1.4M302.4,70.6v1.4M305.0,70.9v1.4M306.7,71.1v1.4M307.7,71.1v1.4M308.9,71.2v1.4M311.6,71.3v1.4M313.9,71.5v1.4M315.7,71.5v1.4M318.7,71.7v1.4M321.2,71.8v1.4M322.6,71.9v1.4M324.1,72.0v1.4" stroke="#F8766D" stroke-width="0.5"/>
<path d="M210.20,41.20 H210.83 V41.83 H211.68 V42.68 H212.31 V43.31 H212.86 V43.86 H213.45 V44.45 H214.17 V45.17 H214.91 V45.91 H215.76 V46.78 H216.59 V47.64 H217.18 V48.27 H217.88 V48.99 H218.73 V49.88 H219.55 V50.74 H220.16 V51.36 H220.87 V52.07 H221.74 V52.94 H223.04 V53.83 H224.03 V54.44 H225.21 V55.16 H226.55 V55.93 H227.48 V56.39 H228.80 V57.05 H230.29 V57.79 H231.42 V58.34 H232.63 V58.94 H234.12 V59.66 H235.56 V60.28 H237.24 V60.99 H238.73 V61.66 H239.88 V62.22 H241.33 V62.93 H242.62 V63.56 H244.09 V64.29 H245.36 V64.93 H247.33 V65.62 H249.17 V66.00 H251.64 V66.52 H252.75 V66.70 H254.28 V66.89 H256.56 V67.18 H258.58 V67.66 H260.54 V68.10 H262.55 V68.50 H264.26 V68.84 H266.11 V69.31 H267.74 V69.73 H270.25 V70.37 H271.61 V70.72 H272.95 V71.06 H274.38 V71.27 H275.55 V71.35 H277.50 V71.50 H279.38 V71.64 H280.40 V71.71 H281.72 V71.81 H284.13 V71.99 H285.48 V72.09 H287.52 V72.21 H289.12 V72.25 H290.30 V72.28 H292.85 V72.33 H294.83 V72.38 H296.15 V72.41 H298.03 V72.45 H299.44 V72.48 H301.69 V72.57 H302.62 V72.62 H304.26 V72.70 H306.24 V72.80 H308.39 V72.92 H309.46 V72.97 H310.45 V73.03 H312.12 V73.11 H314.03 V73.21 H315.71 V73.26 H316.72 V73.30 H318.07 V73.34 H320.17 V73.41 H321.95 V73.47 H324.46 V73.55 H325.45 V73.58 H326.00 V73.60" fill="none" stroke="#7CAE00" stroke-width="1.0" stroke-linejoin="miter" stroke-linecap="butt"/>
<path d="M215.6,45.9v1.4M218.0,48.4v1.4M220.0,50.5v1.4M221.2,51.7v1.4M223.0,53.1v1.4M224.8,54.2v1.4M226.2,55.0v1.4M229.1,56.5v1.4M230.3,57.1v1.4M231.4,57.6v1.4M234.5,59.1v1.4M237.7,60.5v1.4M240.3,61.7v1.4M242.4,62.8v1.4M245.1,64.1v1.4M246.2,64.7v1.4M247.8,65.0v1.4M250.0,65.5v1.4M251.2,65.7v1.4M254.3,66.2v1.4M256.7,66.5v1.4M258.2,66.9v1.4M260.6,67.4v1.4M263.6,68.0v1.4M266.1,68.6v1.4M269.2,69.4v1.4M272.0,70.1v1.4M274.3,70.6v1.4M277.4,70.8v1.4M280.5,71.0v1.4M282.1,71.1v1.4M283.6,71.3v1.4M285.0,71.4v1.4M287.6,71.5v1.4M290.5,71.6v1.4M292.8,71.6v1.4M296.1,71.7v1.4M297.9,71.7v1.4M299.4,71.8v1.4M301.2,71.8v1.4M303.8,72.0v1.4M305.9,72.1v1.4M309.0,72.3v1.4M310.9,72.3v1.4M313.9,72.5v1.4M316.6,72.6v1.4M318.8,72.7v1.4M322.1,72.8v1.4M324.7,72.9v1.4" stroke="#7CAE00" stroke-width="0.5"/>
<path d="M210.20,41.20 H210.61 V41.86 H210.97 V42.44 H211.45 V43.20 H211.91 V43.92 H212.37 V44.66 H212.72 V45.22 H213.21 V46.00 H213.60 V46.62 H214.22 V47.42 H214.83 V48.03 H215.41 V48.61 H216.31 V49.51 H216.85 V50.05 H217.73 V50.93 H218.25 V51.45 H218.72 V52.03 H219.17 V52.58 H219.89 V53.48 H220.33 V54.03 H220.87 V54.69 H221.58 V55.57 H222.49 V56.35 H223.75 V56.97 H225.26 V57.85 H226.37 V58.56 H227.25 V59.21 H228.07 V59.96 H228.77 V60.60 H229.50 V61.25 H230.61 V61.88 H231.52 V62.04 H233.09 V62.20 H235.30 V62.20 H237.17 V62.34 H238.39 V62.65 H240.72 V63.34 H243.18 V64.22 H244.48 V64.54 H246.14 V64.96 H248.13 V65.26 H250.56 V65.60 H251.68 V65.75 H253.52 V66.18 H256.06 V66.81 H258.00 V67.15 H260.12 V67.52 H262.34 V67.96 H264.10 V68.30 H265.49 V68.48 H267.39 V68.72 H269.19 V68.95 H270.68 V69.14 H273.03 V69.44 H274.54 V69.53 H276.27 V69.58 H278.46 V69.65 H280.75 V69.72 H283.16 V69.79 H285.17 V69.85 H286.50 V69.89 H288.84 V69.96 H291.28 V70.03 H293.40 V70.09 H295.60 V69.72 H297.37 V69.70 H299.11 V69.70 H301.00 V69.70 H302.15 V69.70 H304.20 V69.70 H306.57 V69.70 H307.75 V69.70 H309.93 V69.70 H312.03 V69.70 H313.13 V69.70 H314.12 V69.70 H316.03 V69.70 H317.31 V69.70 H318.73 V69.70 H320.69 V69.70 H322.70 V69.70 H324.87 V69.70 H326.00 V69.70" fill="none" stroke="#00BFC4" stroke-width="1.0" stroke-linejoin="miter" stroke-linecap="butt"/>
<path d="M215.6,48.1v1.4M217.4,49.9v1.4M218.4,50.9v1.4M219.7,52.5v1.4M221.1,54.3v1.4M223.3,56.1v1.4M226.0,57.6v1.4M227.5,58.8v1.4M229.4,60.5v1.4M232.6,61.5v1.4M234.5,61.5v1.4M237.2,61.7v1.4M239.7,62.3v1.4M242.2,63.2v1.4M244.3,63.8v1.4M246.6,64.3v1.4M249.2,64.7v1.4M250.6,64.9v1.4M253.5,65.5v1.4M256.5,66.2v1.4M257.6,66.4v1.4M259.1,66.6v1.4M260.6,66.9v1.4M261.9,67.2v1.4M263.2,67.4v1.4M265.7,67.8v1.4M267.0,68.0v1.4M268.1,68.1v1.4M271.3,68.5v1.4M273.3,68.8v1.4M275.5,68.9v1.4M277.6,68.9v1.4M279.4,69.0v1.4M281.5,69.0v1.4M283.0,69.1v1.4M285.3,69.2v1.4M286.9,69.2v1.4M288.2,69.2v1.4M289.7,69.3v1.4M291.7,69.3v1.4M294.9,69.2v1.4M297.3,69.0v1.4M300.5,69.0v1.4M302.5,69.0v1.4M304.1,69.0v1.4M306.7,69.0v1.4M308.2,69.0v1.4M311.5,69.0v1.4M313.4,69.0v1.4M315.1,69.0v1.4M316.7,69.0v1.4M318.4,69.0v1.4M321.6,69.0v1.4M324.9,69.0v1.4" stroke="#00BFC4" stroke-width="0.5"/>
<path d="M210.20,41.20 H210.67 V41.95 H211.10 V42.63 H211.44 V43.17 H211.86 V43.84 H212.20 V44.39 H212.60 V45.02 H212.99 V45.64 H213.39 V46.28 H213.93 V47.13 H214.75 V47.95 H215.32 V48.52 H215.87 V49.07 H216.46 V49.66 H217.17 V50.37 H217.73 V50.93 H218.31 V51.51 H218.86 V52.06 H219.61 V52.81 H220.80 V53.68 H221.95 V54.46 H223.14 V55.26 H224.02 V55.84 H225.05 V56.62 H226.15 V57.50 H227.05 V58.25 H227.92 V59.12 H228.63 V59.83 H229.29 V60.49 H229.81 V61.04 H230.52 V61.77 H231.08 V62.36 H232.34 V63.08 H233.80 V63.26 H235.40 V63.55 H236.74 V64.05 H238.17 V64.59 H240.01 V64.31 H240.90 V64.59 H241.17 V65.13 H241.49 V65.78 H242.04 V66.64 H243.42 V67.04 H245.84 V67.51 H247.75 V67.70 H249.20 V67.96 H250.54 V68.51 H252.88 V69.16 H255.48 V69.32 H257.48 V69.51 H259.66 V69.80 H261.82 V70.12 H264.00 V70.48 H265.65 V70.80 H267.94 V71.25 H269.93 V71.63 H272.39 V72.04 H274.82 V72.40 H276.20 V72.60 H277.96 V72.87 H279.52 V73.10 H280.62 V73.22 H282.02 V73.30 H284.58 V73.44 H286.12 V73.53 H287.22 V73.59 H288.88 V73.68 H290.84 V73.79 H292.21 V74.45 H293.69 V75.20 H295.65 V75.20 H296.99 V75.20 H299.56 V75.20 H301.23 V75.20 H303.49 V75.20 H305.94 V75.20 H308.04 V75.20 H309.73 V75.20 H311.82 V75.20 H313.68 V75.20 H315.75 V75.15 H318.29 V75.09 H319.82 V75.05 H321.28 V75.02 H322.66 V74.98 H324.35 V74.94 H326.00 V74.90" fill="none" stroke="#C77CFF" stroke-width="1.0" stroke-linejoin="miter" stroke-linecap="butt"/>
<path d="M215.6,48.1v1.4M217.4,49.9v1.4M219.6,52.1v1.4M222.9,54.4v1.4M224.5,55.5v1.4M225.7,56.5v1.4M226.8,57.4v1.4M229.6,60.1v1.4M230.7,61.3v1.4M232.6,62.4v1.4M235.1,62.8v1.4M237.3,63.6v1.4M239.5,63.7v1.4M241.9,65.9v1.4M242.9,66.2v1.4M245.4,66.8v1.4M247.9,67.0v1.4M251.2,68.1v1.4M253.2,68.5v1.4M255.5,68.6v1.4M256.6,68.7v1.4M258.6,69.0v1.4M259.7,69.1v1.4M262.0,69.5v1.4M263.4,69.7v1.4M266.2,70.2v1.4M267.6,70.5v1.4M269.0,70.8v1.4M270.9,71.1v1.4M273.8,71.5v1.4M275.7,71.8v1.4M278.9,72.3v1.4M281.5,72.6v1.4M283.0,72.7v1.4M285.8,72.8v1.4M287.1,72.9v1.4M289.8,73.0v1.4M292.1,73.7v1.4M294.5,74.5v1.4M297.6,74.5v1.4M299.9,74.5v1.4M301.8,74.5v1.4M303.5,74.5v1.4M306.0,74.5v1.4M308.7,74.5v1.4M310.8,74.5v1.4M313.3,74.5v1.4M316.0,74.4v1.4M318.1,74.4v1.4M319.3,74.4v1.4M321.8,74.3v1.4M322.9,74.3v1.4M324.7,74.2v1.4" stroke="#C77CFF" stroke-width="0.5"/>
<text x="208.70" y="97.00" font-size="5.7" fill="#1a1a1a" textLength="20.6" lengthAdjust="spacingAndGlyphs">p = 0.47</text>
<text x="204.00" y="140.50" font-size="5.0" fill="#000" textLength="34.8" lengthAdjust="spacingAndGlyphs">Number at risk</text>
<line x1="203.70" y1="144.80" x2="203.70" y2="173.10" stroke="#000" stroke-width="1.1"/>
<line x1="203.20" y1="172.60" x2="323.50" y2="172.60" stroke="#000" stroke-width="1.1"/>
<line x1="200.60" y1="148.30" x2="203.70" y2="148.30" stroke="#000" stroke-width="1.3"/>
<text x="197.30" y="150.30" font-size="6.0" fill="#E0707A" text-anchor="end" textLength="23.2" lengthAdjust="spacingAndGlyphs">0 – 5 days</text>
<text x="209.60" y="150.30" font-size="5.6" fill="#E0707A" text-anchor="middle">872</text>
<text x="231.40" y="150.30" font-size="5.6" fill="#E0707A" text-anchor="middle">676</text>
<text x="253.20" y="150.30" font-size="5.6" fill="#E0707A" text-anchor="middle">439</text>
<text x="275.00" y="150.30" font-size="5.6" fill="#E0707A" text-anchor="middle">314</text>
<text x="296.80" y="150.30" font-size="5.6" fill="#E0707A" text-anchor="middle">211</text>
<text x="318.60" y="150.30" font-size="5.6" fill="#E0707A" text-anchor="middle">121</text>
<line x1="200.60" y1="154.90" x2="203.70" y2="154.90" stroke="#000" stroke-width="1.3"/>
<text x="197.30" y="156.90" font-size="6.0" fill="#8FAE3A" text-anchor="end" textLength="26.3" lengthAdjust="spacingAndGlyphs">6 – 10 days</text>
<text x="209.60" y="156.90" font-size="5.6" fill="#8FAE3A" text-anchor="middle">211</text>
<text x="231.40" y="156.90" font-size="5.6" fill="#8FAE3A" text-anchor="middle">157</text>
<text x="253.20" y="156.90" font-size="5.6" fill="#8FAE3A" text-anchor="middle">90</text>
<text x="275.00" y="156.90" font-size="5.6" fill="#8FAE3A" text-anchor="middle">61</text>
<text x="296.80" y="156.90" font-size="5.6" fill="#8FAE3A" text-anchor="middle">40</text>
<text x="318.60" y="156.90" font-size="5.6" fill="#8FAE3A" text-anchor="middle">23</text>
<line x1="200.60" y1="161.60" x2="203.70" y2="161.60" stroke="#000" stroke-width="1.3"/>
<text x="197.30" y="163.60" font-size="6.0" fill="#4DB8C6" text-anchor="end" textLength="28.9" lengthAdjust="spacingAndGlyphs">11 – 15 days</text>
<text x="209.60" y="163.60" font-size="5.6" fill="#4DB8C6" text-anchor="middle">47</text>
<text x="231.40" y="163.60" font-size="5.6" fill="#4DB8C6" text-anchor="middle">31</text>
<text x="253.20" y="163.60" font-size="5.6" fill="#4DB8C6" text-anchor="middle">19</text>
<text x="275.00" y="163.60" font-size="5.6" fill="#4DB8C6" text-anchor="middle">11</text>
<text x="296.80" y="163.60" font-size="5.6" fill="#4DB8C6" text-anchor="middle">10</text>
<text x="318.60" y="163.60" font-size="5.6" fill="#4DB8C6" text-anchor="middle">7</text>
<line x1="200.60" y1="168.30" x2="203.70" y2="168.30" stroke="#000" stroke-width="1.3"/>
<text x="197.30" y="170.30" font-size="6.0" fill="#A98AD6" text-anchor="end" textLength="22.6" lengthAdjust="spacingAndGlyphs">> 15 days</text>
<text x="209.60" y="170.30" font-size="5.6" fill="#A98AD6" text-anchor="middle">82</text>
<text x="231.40" y="170.30" font-size="5.6" fill="#A98AD6" text-anchor="middle">54</text>
<text x="253.20" y="170.30" font-size="5.6" fill="#A98AD6" text-anchor="middle">37</text>
<text x="275.00" y="170.30" font-size="5.6" fill="#A98AD6" text-anchor="middle">30</text>
<text x="296.80" y="170.30" font-size="5.6" fill="#A98AD6" text-anchor="middle">18</text>
<text x="318.60" y="170.30" font-size="5.6" fill="#A98AD6" text-anchor="middle">13</text>
<line x1="209.60" y1="172.60" x2="209.60" y2="175.60" stroke="#000" stroke-width="1.0"/>
<text x="209.60" y="183.30" font-size="5.6" fill="#222" text-anchor="middle">0</text>
<line x1="231.40" y1="172.60" x2="231.40" y2="175.60" stroke="#000" stroke-width="1.0"/>
<text x="231.40" y="183.30" font-size="5.6" fill="#222" text-anchor="middle">12</text>
<line x1="253.20" y1="172.60" x2="253.20" y2="175.60" stroke="#000" stroke-width="1.0"/>
<text x="253.20" y="183.30" font-size="5.6" fill="#222" text-anchor="middle">24</text>
<line x1="275.00" y1="172.60" x2="275.00" y2="175.60" stroke="#000" stroke-width="1.0"/>
<text x="275.00" y="183.30" font-size="5.6" fill="#222" text-anchor="middle">36</text>
<line x1="296.80" y1="172.60" x2="296.80" y2="175.60" stroke="#000" stroke-width="1.0"/>
<text x="296.80" y="183.30" font-size="5.6" fill="#222" text-anchor="middle">48</text>
<line x1="318.60" y1="172.60" x2="318.60" y2="175.60" stroke="#000" stroke-width="1.0"/>
<text x="318.60" y="183.30" font-size="5.6" fill="#222" text-anchor="middle">60</text>
<text x="263.60" y="194.10" font-size="8.8" fill="#3a3a3a" text-anchor="middle" textLength="12.9" lengthAdjust="spacingAndGlyphs">Time</text>
<text x="204.00" y="208.90" font-size="5.0" fill="#000" textLength="77.5" lengthAdjust="spacingAndGlyphs">Cumulative number of censoring</text>
<line x1="203.70" y1="213.20" x2="203.70" y2="241.50" stroke="#000" stroke-width="1.1"/>
<line x1="203.20" y1="241.00" x2="323.50" y2="241.00" stroke="#000" stroke-width="1.1"/>
<line x1="200.60" y1="216.70" x2="203.70" y2="216.70" stroke="#000" stroke-width="1.3"/>
<text x="197.30" y="218.70" font-size="6.0" fill="#E0707A" text-anchor="end" textLength="23.2" lengthAdjust="spacingAndGlyphs">0 – 5 days</text>
<text x="209.60" y="218.70" font-size="5.6" fill="#E0707A" text-anchor="middle">0</text>
<text x="231.40" y="218.70" font-size="5.6" fill="#E0707A" text-anchor="middle">1</text>
<text x="253.20" y="218.70" font-size="5.6" fill="#E0707A" text-anchor="middle">129</text>
<text x="275.00" y="218.70" font-size="5.6" fill="#E0707A" text-anchor="middle">225</text>
<text x="296.80" y="218.70" font-size="5.6" fill="#E0707A" text-anchor="middle">313</text>
<text x="318.60" y="218.70" font-size="5.6" fill="#E0707A" text-anchor="middle">395</text>
<line x1="200.60" y1="223.30" x2="203.70" y2="223.30" stroke="#000" stroke-width="1.3"/>
<text x="197.30" y="225.30" font-size="6.0" fill="#8FAE3A" text-anchor="end" textLength="26.3" lengthAdjust="spacingAndGlyphs">6 – 10 days</text>
<text x="209.60" y="225.30" font-size="5.6" fill="#8FAE3A" text-anchor="middle">0</text>
<text x="231.40" y="225.30" font-size="5.6" fill="#8FAE3A" text-anchor="middle">0</text>
<text x="253.20" y="225.30" font-size="5.6" fill="#8FAE3A" text-anchor="middle">41</text>
<text x="275.00" y="225.30" font-size="5.6" fill="#8FAE3A" text-anchor="middle">64</text>
<text x="296.80" y="225.30" font-size="5.6" fill="#8FAE3A" text-anchor="middle">82</text>
<text x="318.60" y="225.30" font-size="5.6" fill="#8FAE3A" text-anchor="middle">98</text>
<line x1="200.60" y1="230.00" x2="203.70" y2="230.00" stroke="#000" stroke-width="1.3"/>
<text x="197.30" y="232.00" font-size="6.0" fill="#4DB8C6" text-anchor="end" textLength="28.9" lengthAdjust="spacingAndGlyphs">11 – 15 days</text>
<text x="209.60" y="232.00" font-size="5.6" fill="#4DB8C6" text-anchor="middle">0</text>
<text x="231.40" y="232.00" font-size="5.6" fill="#4DB8C6" text-anchor="middle">1</text>
<text x="253.20" y="232.00" font-size="5.6" fill="#4DB8C6" text-anchor="middle">11</text>
<text x="275.00" y="232.00" font-size="5.6" fill="#4DB8C6" text-anchor="middle">17</text>
<text x="296.80" y="232.00" font-size="5.6" fill="#4DB8C6" text-anchor="middle">18</text>
<text x="318.60" y="232.00" font-size="5.6" fill="#4DB8C6" text-anchor="middle">21</text>
<line x1="200.60" y1="236.70" x2="203.70" y2="236.70" stroke="#000" stroke-width="1.3"/>
<text x="197.30" y="238.70" font-size="6.0" fill="#A98AD6" text-anchor="end" textLength="22.6" lengthAdjust="spacingAndGlyphs">> 15 days</text>
<text x="209.60" y="238.70" font-size="5.6" fill="#A98AD6" text-anchor="middle">0</text>
<text x="231.40" y="238.70" font-size="5.6" fill="#A98AD6" text-anchor="middle">1</text>
<text x="253.20" y="238.70" font-size="5.6" fill="#A98AD6" text-anchor="middle">11</text>
<text x="275.00" y="238.70" font-size="5.6" fill="#A98AD6" text-anchor="middle">15</text>
<text x="296.80" y="238.70" font-size="5.6" fill="#A98AD6" text-anchor="middle">25</text>
<text x="318.60" y="238.70" font-size="5.6" fill="#A98AD6" text-anchor="middle">30</text>
<line x1="209.60" y1="241.00" x2="209.60" y2="244.00" stroke="#000" stroke-width="1.0"/>
<text x="209.60" y="251.70" font-size="5.6" fill="#222" text-anchor="middle">0</text>
<line x1="231.40" y1="241.00" x2="231.40" y2="244.00" stroke="#000" stroke-width="1.0"/>
<text x="231.40" y="251.70" font-size="5.6" fill="#222" text-anchor="middle">12</text>
<line x1="253.20" y1="241.00" x2="253.20" y2="244.00" stroke="#000" stroke-width="1.0"/>
<text x="253.20" y="251.70" font-size="5.6" fill="#222" text-anchor="middle">24</text>
<line x1="275.00" y1="241.00" x2="275.00" y2="244.00" stroke="#000" stroke-width="1.0"/>
<text x="275.00" y="251.70" font-size="5.6" fill="#222" text-anchor="middle">36</text>
<line x1="296.80" y1="241.00" x2="296.80" y2="244.00" stroke="#000" stroke-width="1.0"/>
<text x="296.80" y="251.70" font-size="5.6" fill="#222" text-anchor="middle">48</text>
<line x1="318.60" y1="241.00" x2="318.60" y2="244.00" stroke="#000" stroke-width="1.0"/>
<text x="318.60" y="251.70" font-size="5.6" fill="#222" text-anchor="middle">60</text>
<text x="263.60" y="262.50" font-size="8.8" fill="#3a3a3a" text-anchor="middle" textLength="12.9" lengthAdjust="spacingAndGlyphs">Time</text>
<text x="353.80" y="16.50" font-size="12.2" fill="#000" font-weight="bold">C</text>
<line x1="389.20" y1="36.50" x2="389.20" y2="109.00" stroke="#000" stroke-width="1.1"/>
<line x1="388.70" y1="108.40" x2="510.50" y2="108.40" stroke="#000" stroke-width="1.1"/>
<line x1="386.20" y1="40.10" x2="389.20" y2="40.10" stroke="#000" stroke-width="1.0"/>
<text x="383.60" y="42.15" font-size="5.7" fill="#333" text-anchor="end" textLength="10.4" lengthAdjust="spacingAndGlyphs">1.00</text>
<line x1="386.20" y1="56.38" x2="389.20" y2="56.38" stroke="#000" stroke-width="1.0"/>
<text x="383.60" y="58.42" font-size="5.7" fill="#333" text-anchor="end" textLength="10.4" lengthAdjust="spacingAndGlyphs">0.75</text>
<line x1="386.20" y1="72.65" x2="389.20" y2="72.65" stroke="#000" stroke-width="1.0"/>
<text x="383.60" y="74.70" font-size="5.7" fill="#333" text-anchor="end" textLength="10.4" lengthAdjust="spacingAndGlyphs">0.50</text>
<line x1="386.20" y1="88.92" x2="389.20" y2="88.92" stroke="#000" stroke-width="1.0"/>
<text x="383.60" y="90.97" font-size="5.7" fill="#333" text-anchor="end" textLength="10.4" lengthAdjust="spacingAndGlyphs">0.25</text>
<line x1="386.20" y1="105.20" x2="389.20" y2="105.20" stroke="#000" stroke-width="1.0"/>
<text x="383.60" y="107.25" font-size="5.7" fill="#333" text-anchor="end" textLength="10.4" lengthAdjust="spacingAndGlyphs">0.00</text>
<line x1="396.50" y1="108.40" x2="396.50" y2="111.40" stroke="#000" stroke-width="1.0"/>
<text x="396.50" y="119.40" font-size="5.5" fill="#222" text-anchor="middle">0</text>
<line x1="418.24" y1="108.40" x2="418.24" y2="111.40" stroke="#000" stroke-width="1.0"/>
<text x="418.24" y="119.40" font-size="5.5" fill="#222" text-anchor="middle">12</text>
<line x1="439.98" y1="108.40" x2="439.98" y2="111.40" stroke="#000" stroke-width="1.0"/>
<text x="439.98" y="119.40" font-size="5.5" fill="#222" text-anchor="middle">24</text>
<line x1="461.72" y1="108.40" x2="461.72" y2="111.40" stroke="#000" stroke-width="1.0"/>
<text x="461.72" y="119.40" font-size="5.5" fill="#222" text-anchor="middle">36</text>
<line x1="483.46" y1="108.40" x2="483.46" y2="111.40" stroke="#000" stroke-width="1.0"/>
<text x="483.46" y="119.40" font-size="5.5" fill="#222" text-anchor="middle">48</text>
<line x1="505.20" y1="108.40" x2="505.20" y2="111.40" stroke="#000" stroke-width="1.0"/>
<text x="505.20" y="119.40" font-size="5.5" fill="#222" text-anchor="middle">60</text>
<text x="0" y="0" font-size="7.7" fill="#2a2a2a" text-anchor="middle" textLength="50.2" lengthAdjust="spacingAndGlyphs" transform="translate(368.50,72.20) rotate(-90)">Survival probability</text>
<text x="450.00" y="129.70" font-size="8.8" fill="#3a3a3a" text-anchor="middle" textLength="12.8" lengthAdjust="spacingAndGlyphs">Time</text>
<line x1="398.20" y1="72.90" x2="429.20" y2="72.90" stroke="#999" stroke-width="1.0" stroke-dasharray="1.5,0.7"/>
<line x1="420.30" y1="72.90" x2="420.30" y2="102.90" stroke="#555" stroke-width="0.8" stroke-dasharray="1.2,1.2"/>
<line x1="421.80" y1="72.90" x2="421.80" y2="102.90" stroke="#555" stroke-width="0.8" stroke-dasharray="1.2,1.2"/>
<line x1="423.70" y1="72.90" x2="423.70" y2="102.90" stroke="#555" stroke-width="0.8" stroke-dasharray="1.2,1.2"/>
<line x1="429.20" y1="72.90" x2="429.20" y2="102.90" stroke="#555" stroke-width="0.8" stroke-dasharray="1.2,1.2"/>
<path d="M396.40,39.90 H396.62 V40.63 H396.91 V41.57 H397.24 V42.65 H397.58 V43.79 H397.91 V44.78 H398.12 V45.33 H398.37 V45.98 H398.69 V46.80 H398.96 V47.49 H399.31 V48.34 H399.57 V48.90 H399.92 V49.64 H400.27 V50.41 H400.67 V51.23 H401.05 V51.98 H401.36 V52.58 H401.70 V53.24 H402.01 V53.85 H402.35 V54.49 H402.78 V55.15 H403.31 V55.91 H403.77 V56.58 H404.47 V57.37 H405.17 V57.93 H405.72 V58.67 H406.27 V59.41 H406.82 V60.15 H407.61 V60.83 H408.43 V61.41 H409.15 V62.00 H410.08 V62.83 H411.01 V63.66 H411.98 V64.53 H412.89 V65.39 H413.48 V65.98 H414.30 V66.80 H414.84 V67.34 H415.69 V68.19 H416.59 V69.09 H417.15 V69.65 H417.85 V70.35 H418.70 V71.20 H419.40 V71.90 H420.17 V72.57 H421.16 V73.27 H422.11 V73.95 H423.05 V74.62 H423.91 V75.20 H425.03 V75.96 H426.16 V76.71 H427.38 V77.47 H428.47 V78.12 H429.72 V78.87 H431.23 V79.75 H432.85 V80.40 H434.68 V81.13 H436.77 V81.95 H437.78 V82.26 H440.31 V83.05 H441.86 V83.53 H444.44 V84.25 H446.82 V84.92 H449.15 V85.56 H450.29 V85.83 H451.96 V85.98 H453.69 V86.14 H455.12 V86.29 H456.84 V86.52 H458.26 V86.71 H460.16 V86.95 H462.27 V87.23 H464.33 V87.50 H466.60 V87.80 H468.85 V88.09 H470.36 V88.24 H472.37 V88.44 H474.58 V88.65 H475.60 V88.75 H477.65 V88.95 H479.33 V89.11 H480.47 V89.22 H481.86 V89.36 H484.07 V89.58 H486.10 V89.79 H487.92 V89.98 H490.35 V90.23 H492.27 V90.43 H493.20 V90.53 H495.20 V90.74 H496.97 V90.92 H499.20 V91.07 H501.16 V91.17 H503.35 V91.27 H504.35 V91.32 H506.42 V91.42 H507.71 V91.48 H508.86 V91.54 H511.05 V91.64 H512.20 V91.70" fill="none" stroke="#F8766D" stroke-width="1.0" stroke-linejoin="miter" stroke-linecap="butt"/>
<path d="M402.5,54.0v1.4M405.7,58.0v1.4M407.5,60.1v1.4M410.8,62.7v1.4M413.3,65.1v1.4M415.9,67.7v1.4M418.8,70.6v1.4M421.8,73.0v1.4M422.9,73.8v1.4M425.4,75.5v1.4M427.8,77.0v1.4M430.3,78.5v1.4M432.1,79.4v1.4M435.4,80.7v1.4M436.8,81.3v1.4M439.8,82.2v1.4M441.2,82.6v1.4M442.5,83.0v1.4M443.7,83.3v1.4M446.8,84.2v1.4M447.9,84.5v1.4M449.5,85.0v1.4M452.3,85.3v1.4M454.0,85.5v1.4M457.2,85.9v1.4M460.1,86.3v1.4M462.2,86.5v1.4M464.8,86.9v1.4M467.7,87.2v1.4M470.3,87.5v1.4M473.5,87.8v1.4M475.2,88.0v1.4M477.6,88.2v1.4M479.1,88.4v1.4M480.2,88.5v1.4M482.9,88.8v1.4M484.7,88.9v1.4M485.7,89.0v1.4M488.0,89.3v1.4M490.7,89.6v1.4M491.8,89.7v1.4M493.6,89.9v1.4M496.6,90.2v1.4M499.0,90.4v1.4M500.2,90.4v1.4M502.9,90.6v1.4M504.5,90.6v1.4M506.4,90.7v1.4M509.7,90.9v1.4" stroke="#F8766D" stroke-width="0.5"/>
<path d="M396.40,39.90 H396.86 V40.59 H397.39 V41.39 H397.97 V42.26 H398.52 V43.11 H399.07 V44.01 H399.59 V44.84 H400.04 V45.56 H400.42 V46.16 H400.81 V46.81 H401.28 V47.58 H401.70 V48.27 H402.09 V48.91 H402.56 V49.69 H403.05 V50.48 H403.41 V51.07 H403.93 V51.87 H404.40 V52.57 H404.81 V53.21 H405.21 V53.79 H405.75 V54.52 H406.34 V55.36 H406.83 V56.12 H407.24 V56.76 H407.62 V57.34 H408.07 V58.03 H408.46 V58.63 H409.01 V59.34 H409.76 V60.17 H410.34 V60.82 H410.84 V61.37 H411.50 V62.10 H412.16 V62.84 H412.93 V63.63 H413.59 V64.29 H414.20 V64.90 H414.77 V65.47 H415.56 V66.26 H416.12 V66.82 H416.89 V67.59 H417.50 V68.20 H418.26 V68.96 H418.97 V69.61 H420.10 V70.31 H421.20 V70.99 H422.37 V71.72 H423.11 V72.33 H423.91 V73.03 H424.78 V73.79 H425.70 V74.59 H426.55 V75.29 H427.46 V75.85 H428.90 V76.74 H429.94 V77.38 H431.13 V78.11 H432.61 V78.71 H434.02 V79.27 H434.95 V79.64 H436.32 V80.19 H437.24 V80.56 H438.65 V81.12 H440.56 V81.88 H442.04 V82.48 H444.02 V83.26 H445.17 V83.71 H446.97 V84.41 H449.38 V85.14 H450.94 V85.57 H452.89 V86.13 H454.40 V86.56 H456.43 V87.15 H457.92 V87.51 H459.28 V87.76 H460.19 V87.92 H462.66 V88.37 H464.59 V88.72 H467.01 V89.16 H469.08 V89.54 H470.51 V89.82 H471.53 V90.02 H474.08 V90.52 H476.54 V91.01 H478.97 V91.38 H480.51 V91.56 H482.42 V91.79 H484.59 V91.90 H486.05 V91.89 H487.40 V91.89 H488.74 V91.88 H490.49 V91.88 H492.08 V91.87 H494.45 V91.86 H496.74 V91.85 H497.87 V91.85 H499.26 V91.84 H500.94 V91.84 H503.46 V91.83 H505.78 V91.82 H507.43 V91.82 H509.73 V91.81 H510.84 V91.80 H511.87 V91.80 H512.20 V91.80" fill="none" stroke="#7CAE00" stroke-width="1.0" stroke-linejoin="miter" stroke-linecap="butt"/>
<path d="M402.5,48.9v1.4M403.9,51.1v1.4M406.8,55.4v1.4M410.0,59.7v1.4M412.0,61.9v1.4M413.8,63.8v1.4M414.9,64.9v1.4M415.9,65.9v1.4M419.1,69.0v1.4M422.2,70.9v1.4M423.4,71.9v1.4M425.3,73.5v1.4M427.8,75.4v1.4M429.7,76.5v1.4M430.7,77.2v1.4M433.9,78.5v1.4M436.2,79.4v1.4M437.8,80.1v1.4M440.9,81.3v1.4M442.7,82.1v1.4M446.1,83.4v1.4M448.6,84.2v1.4M451.8,85.1v1.4M453.7,85.7v1.4M456.1,86.3v1.4M458.9,87.0v1.4M461.2,87.4v1.4M463.6,87.8v1.4M466.0,88.3v1.4M469.3,88.9v1.4M472.4,89.5v1.4M474.5,89.9v1.4M476.2,90.3v1.4M479.1,90.7v1.4M481.3,91.0v1.4M483.0,91.2v1.4M484.8,91.2v1.4M486.4,91.2v1.4M488.0,91.2v1.4M490.1,91.2v1.4M492.0,91.2v1.4M493.3,91.2v1.4M496.4,91.2v1.4M498.1,91.1v1.4M501.3,91.1v1.4M503.9,91.1v1.4M507.2,91.1v1.4M509.8,91.1v1.4" stroke="#7CAE00" stroke-width="0.5"/>
<path d="M396.40,39.90 H396.81 V40.69 H397.25 V41.54 H397.58 V42.18 H397.90 V42.81 H398.27 V43.56 H398.53 V44.10 H398.80 V44.66 H399.08 V45.23 H399.38 V45.84 H399.83 V46.74 H400.28 V47.63 H400.61 V48.27 H400.98 V48.99 H401.42 V49.85 H401.80 V50.74 H402.09 V51.44 H402.41 V52.25 H402.64 V52.79 H402.95 V53.55 H403.21 V54.16 H403.55 V54.97 H403.82 V55.60 H404.17 V56.44 H404.48 V57.44 H404.71 V58.23 H405.01 V59.21 H405.75 V60.04 H406.48 V60.85 H407.35 V61.47 H408.92 V62.26 H410.46 V62.93 H412.08 V63.54 H413.67 V64.12 H415.71 V64.77 H416.25 V65.14 H416.62 V65.71 H417.01 V66.31 H417.54 V67.15 H418.11 V67.91 H418.86 V68.66 H419.41 V69.21 H420.08 V69.88 H420.78 V70.57 H421.35 V71.13 H422.08 V71.83 H422.68 V72.41 H423.38 V73.08 H424.12 V73.68 H424.89 V74.28 H425.80 V74.99 H427.01 V75.63 H428.71 V76.32 H429.76 V76.97 H430.62 V77.55 H431.48 V78.12 H432.34 V78.77 H432.78 V79.34 H433.23 V79.91 H433.78 V80.61 H434.40 V81.40 H434.97 V82.10 H435.51 V82.76 H436.05 V83.43 H436.91 V84.27 H438.31 V85.03 H439.41 V85.60 H440.67 V86.21 H442.89 V87.06 H445.16 V87.53 H447.41 V88.32 H448.55 V88.74 H449.75 V89.17 H452.00 V89.95 H454.15 V90.39 H456.57 V90.59 H458.23 V90.89 H459.10 V91.61 H459.78 V92.17 H460.69 V92.93 H463.09 V93.10 H464.57 V93.10 H465.58 V93.10 H467.41 V93.10 H469.49 V93.10 H470.98 V93.10 H471.98 V93.10 H473.35 V93.10 H475.65 V93.10 H476.71 V93.10 H479.20 V93.10 H480.53 V93.10 H481.77 V93.10 H482.87 V93.10 H485.43 V93.05 H487.87 V92.99 H489.31 V92.95 H490.37 V92.93 H492.38 V92.88 H494.79 V92.82 H495.71 V92.80 H497.69 V92.75 H500.04 V92.69 H501.72 V92.65 H503.59 V92.61 H505.86 V92.55 H507.16 V92.52 H508.53 V92.49 H510.55 V92.44 H512.20 V92.40" fill="none" stroke="#00BFC4" stroke-width="1.0" stroke-linejoin="miter" stroke-linecap="butt"/>
<path d="M402.5,51.8v1.4M404.7,57.7v1.4M406.5,60.2v1.4M409.7,61.9v1.4M411.4,62.6v1.4M414.0,63.5v1.4M417.1,65.7v1.4M419.0,68.1v1.4M420.1,69.2v1.4M421.6,70.7v1.4M422.8,71.8v1.4M424.1,73.0v1.4M425.4,74.0v1.4M427.2,75.0v1.4M429.1,75.8v1.4M431.1,77.2v1.4M433.7,79.8v1.4M436.3,83.0v1.4M438.9,84.6v1.4M440.7,85.5v1.4M443.3,86.4v1.4M445.5,86.9v1.4M446.8,87.4v1.4M449.1,88.2v1.4M450.9,88.9v1.4M453.4,89.6v1.4M456.1,89.9v1.4M457.7,90.0v1.4M459.7,91.4v1.4M461.8,92.4v1.4M463.5,92.4v1.4M464.6,92.4v1.4M465.7,92.4v1.4M469.0,92.4v1.4M471.7,92.4v1.4M473.8,92.4v1.4M476.3,92.4v1.4M477.9,92.4v1.4M480.6,92.4v1.4M483.8,92.4v1.4M486.6,92.3v1.4M488.7,92.3v1.4M492.0,92.2v1.4M495.1,92.1v1.4M496.3,92.1v1.4M498.2,92.0v1.4M500.3,92.0v1.4M501.9,91.9v1.4M504.4,91.9v1.4M505.7,91.9v1.4M508.5,91.8v1.4M511.5,91.7v1.4" stroke="#00BFC4" stroke-width="0.5"/>
<path d="M396.40,39.90 H396.86 V40.49 H397.29 V41.05 H397.93 V41.88 H398.48 V42.63 H398.95 V43.28 H399.46 V43.98 H399.98 V44.69 H400.40 V45.26 H401.04 V46.11 H401.45 V46.66 H402.13 V47.55 H402.77 V48.40 H403.26 V49.05 H403.71 V49.79 H404.09 V50.45 H404.42 V51.00 H404.87 V51.78 H405.27 V52.51 H405.58 V53.08 H405.91 V53.69 H406.24 V54.31 H406.72 V55.19 H407.08 V55.86 H407.38 V56.43 H407.74 V57.10 H408.24 V57.85 H408.67 V58.49 H409.19 V59.25 H409.66 V59.95 H410.27 V60.73 H411.31 V61.57 H412.54 V62.29 H414.89 V62.77 H416.11 V63.01 H416.65 V63.59 H417.45 V64.43 H418.07 V65.07 H418.62 V65.62 H419.49 V66.49 H420.38 V67.22 H421.29 V67.87 H422.64 V68.65 H423.91 V69.31 H425.11 V69.94 H426.45 V70.80 H426.94 V71.40 H427.57 V72.16 H428.08 V72.78 H428.72 V73.62 H429.20 V74.24 H429.71 V74.92 H431.71 V75.73 H432.82 V76.00 H434.02 V76.31 H436.39 V76.40 H438.17 V76.40 H439.40 V76.40 H440.71 V77.03 H441.57 V77.69 H442.74 V78.31 H444.62 V78.92 H446.14 V79.60 H447.26 V80.30 H448.57 V81.12 H450.17 V81.20 H452.34 V81.20 H453.41 V81.20 H455.21 V81.20 H455.98 V81.36 H456.38 V82.17 H456.67 V82.79 H457.03 V83.52 H457.43 V84.33 H457.73 V84.96 H458.91 V85.50 H461.46 V85.50 H463.11 V85.50 H465.13 V85.50 H467.09 V85.50 H468.50 V85.50 H470.00 V85.50 H471.47 V85.50 H472.68 V85.84 H473.02 V86.46 H473.47 V87.30 H474.46 V88.15 H475.37 V88.22 H476.76 V88.34 H478.45 V89.13 H479.60 V90.01 H480.60 V90.78 H481.51 V91.48 H483.72 V91.75 H485.71 V91.79 H486.67 V91.82 H487.78 V91.84 H489.00 V91.87 H491.12 V91.93 H492.74 V91.96 H493.75 V91.99 H495.49 V92.03 H498.05 V92.09 H499.90 V92.14 H502.46 V92.20 H504.01 V92.24 H506.01 V92.29 H507.90 V92.33 H509.83 V92.38 H510.77 V92.70 H511.00 V93.64 H511.24 V94.63 H511.40 V95.30" fill="none" stroke="#C77CFF" stroke-width="1.0" stroke-linejoin="miter" stroke-linecap="butt"/>
<path d="M402.5,47.3v1.4M404.7,50.8v1.4M406.6,54.3v1.4M409.7,59.3v1.4M410.8,60.4v1.4M413.4,61.8v1.4M416.0,62.3v1.4M417.9,64.2v1.4M420.3,66.5v1.4M423.4,68.3v1.4M425.9,69.6v1.4M428.9,73.2v1.4M430.6,74.7v1.4M431.9,75.1v1.4M434.3,75.7v1.4M435.3,75.7v1.4M438.1,75.7v1.4M439.8,75.7v1.4M441.8,77.2v1.4M444.3,78.1v1.4M445.4,78.5v1.4M446.6,79.2v1.4M449.4,80.5v1.4M450.7,80.5v1.4M453.2,80.5v1.4M454.6,80.5v1.4M457.7,84.2v1.4M460.1,84.8v1.4M462.6,84.8v1.4M464.8,84.8v1.4M467.0,84.8v1.4M469.8,84.8v1.4M471.1,84.8v1.4M474.3,87.4v1.4M477.6,87.8v1.4M479.3,89.1v1.4M480.3,89.8v1.4M482.7,91.0v1.4M485.6,91.1v1.4M488.1,91.2v1.4M490.8,91.2v1.4M493.8,91.3v1.4M497.0,91.4v1.4M498.4,91.4v1.4M501.1,91.5v1.4M503.4,91.5v1.4M506.1,91.6v1.4M508.6,91.6v1.4M510.4,91.7v1.4" stroke="#C77CFF" stroke-width="0.5"/>
<text x="394.40" y="96.00" font-size="5.7" fill="#1a1a1a" textLength="20.6" lengthAdjust="spacingAndGlyphs">p = 0.88</text>
<text x="389.50" y="140.50" font-size="5.0" fill="#000" textLength="34.8" lengthAdjust="spacingAndGlyphs">Number at risk</text>
<line x1="389.20" y1="144.80" x2="389.20" y2="173.10" stroke="#000" stroke-width="1.1"/>
<line x1="388.70" y1="172.60" x2="510.00" y2="172.60" stroke="#000" stroke-width="1.1"/>
<line x1="386.10" y1="148.30" x2="389.20" y2="148.30" stroke="#000" stroke-width="1.3"/>
<text x="383.30" y="150.30" font-size="6.0" fill="#E0707A" text-anchor="end" textLength="23.2" lengthAdjust="spacingAndGlyphs">0 – 5 days</text>
<text x="396.50" y="150.30" font-size="5.6" fill="#E0707A" text-anchor="middle">675</text>
<text x="418.24" y="150.30" font-size="5.6" fill="#E0707A" text-anchor="middle">355</text>
<text x="439.98" y="150.30" font-size="5.6" fill="#E0707A" text-anchor="middle">180</text>
<text x="461.72" y="150.30" font-size="5.6" fill="#E0707A" text-anchor="middle">112</text>
<text x="483.46" y="150.30" font-size="5.6" fill="#E0707A" text-anchor="middle">67</text>
<text x="505.20" y="150.30" font-size="5.6" fill="#E0707A" text-anchor="middle">34</text>
<line x1="386.10" y1="154.90" x2="389.20" y2="154.90" stroke="#000" stroke-width="1.3"/>
<text x="383.30" y="156.90" font-size="6.0" fill="#8FAE3A" text-anchor="end" textLength="26.3" lengthAdjust="spacingAndGlyphs">6 – 10 days</text>
<text x="396.50" y="156.90" font-size="5.6" fill="#8FAE3A" text-anchor="middle">236</text>
<text x="418.24" y="156.90" font-size="5.6" fill="#8FAE3A" text-anchor="middle">132</text>
<text x="439.98" y="156.90" font-size="5.6" fill="#8FAE3A" text-anchor="middle">65</text>
<text x="461.72" y="156.90" font-size="5.6" fill="#8FAE3A" text-anchor="middle">32</text>
<text x="483.46" y="156.90" font-size="5.6" fill="#8FAE3A" text-anchor="middle">20</text>
<text x="505.20" y="156.90" font-size="5.6" fill="#8FAE3A" text-anchor="middle">10</text>
<line x1="386.10" y1="161.60" x2="389.20" y2="161.60" stroke="#000" stroke-width="1.3"/>
<text x="383.30" y="163.60" font-size="6.0" fill="#4DB8C6" text-anchor="end" textLength="28.9" lengthAdjust="spacingAndGlyphs">11 – 15 days</text>
<text x="396.50" y="163.60" font-size="5.6" fill="#4DB8C6" text-anchor="middle">59</text>
<text x="418.24" y="163.60" font-size="5.6" fill="#4DB8C6" text-anchor="middle">32</text>
<text x="439.98" y="163.60" font-size="5.6" fill="#4DB8C6" text-anchor="middle">14</text>
<text x="461.72" y="163.60" font-size="5.6" fill="#4DB8C6" text-anchor="middle">8</text>
<text x="483.46" y="163.60" font-size="5.6" fill="#4DB8C6" text-anchor="middle">6</text>
<text x="505.20" y="163.60" font-size="5.6" fill="#4DB8C6" text-anchor="middle">4</text>
<line x1="386.10" y1="168.30" x2="389.20" y2="168.30" stroke="#000" stroke-width="1.3"/>
<text x="383.30" y="170.30" font-size="6.0" fill="#A98AD6" text-anchor="end" textLength="22.6" lengthAdjust="spacingAndGlyphs">> 15 days</text>
<text x="396.50" y="170.30" font-size="5.6" fill="#A98AD6" text-anchor="middle">81</text>
<text x="418.24" y="170.30" font-size="5.6" fill="#A98AD6" text-anchor="middle">49</text>
<text x="439.98" y="170.30" font-size="5.6" fill="#A98AD6" text-anchor="middle">28</text>
<text x="461.72" y="170.30" font-size="5.6" fill="#A98AD6" text-anchor="middle">17</text>
<text x="483.46" y="170.30" font-size="5.6" fill="#A98AD6" text-anchor="middle">10</text>
<text x="505.20" y="170.30" font-size="5.6" fill="#A98AD6" text-anchor="middle">5</text>
<line x1="396.50" y1="172.60" x2="396.50" y2="175.60" stroke="#000" stroke-width="1.0"/>
<text x="396.50" y="183.30" font-size="5.6" fill="#222" text-anchor="middle">0</text>
<line x1="418.24" y1="172.60" x2="418.24" y2="175.60" stroke="#000" stroke-width="1.0"/>
<text x="418.24" y="183.30" font-size="5.6" fill="#222" text-anchor="middle">12</text>
<line x1="439.98" y1="172.60" x2="439.98" y2="175.60" stroke="#000" stroke-width="1.0"/>
<text x="439.98" y="183.30" font-size="5.6" fill="#222" text-anchor="middle">24</text>
<line x1="461.72" y1="172.60" x2="461.72" y2="175.60" stroke="#000" stroke-width="1.0"/>
<text x="461.72" y="183.30" font-size="5.6" fill="#222" text-anchor="middle">36</text>
<line x1="483.46" y1="172.60" x2="483.46" y2="175.60" stroke="#000" stroke-width="1.0"/>
<text x="483.46" y="183.30" font-size="5.6" fill="#222" text-anchor="middle">48</text>
<line x1="505.20" y1="172.60" x2="505.20" y2="175.60" stroke="#000" stroke-width="1.0"/>
<text x="505.20" y="183.30" font-size="5.6" fill="#222" text-anchor="middle">60</text>
<text x="449.90" y="194.10" font-size="8.8" fill="#3a3a3a" text-anchor="middle" textLength="12.9" lengthAdjust="spacingAndGlyphs">Time</text>
<text x="389.50" y="208.90" font-size="5.0" fill="#000" textLength="77.5" lengthAdjust="spacingAndGlyphs">Cumulative number of censoring</text>
<line x1="389.20" y1="213.20" x2="389.20" y2="241.50" stroke="#000" stroke-width="1.1"/>
<line x1="388.70" y1="241.00" x2="510.00" y2="241.00" stroke="#000" stroke-width="1.1"/>
<line x1="386.10" y1="216.70" x2="389.20" y2="216.70" stroke="#000" stroke-width="1.3"/>
<text x="383.30" y="218.70" font-size="6.0" fill="#E0707A" text-anchor="end" textLength="23.2" lengthAdjust="spacingAndGlyphs">0 – 5 days</text>
<text x="396.50" y="218.70" font-size="5.6" fill="#E0707A" text-anchor="middle">0</text>
<text x="418.24" y="218.70" font-size="5.6" fill="#E0707A" text-anchor="middle">1</text>
<text x="439.98" y="218.70" font-size="5.6" fill="#E0707A" text-anchor="middle">71</text>
<text x="461.72" y="218.70" font-size="5.6" fill="#E0707A" text-anchor="middle">110</text>
<text x="483.46" y="218.70" font-size="5.6" fill="#E0707A" text-anchor="middle">141</text>
<text x="505.20" y="218.70" font-size="5.6" fill="#E0707A" text-anchor="middle">166</text>
<line x1="386.10" y1="223.30" x2="389.20" y2="223.30" stroke="#000" stroke-width="1.3"/>
<text x="383.30" y="225.30" font-size="6.0" fill="#8FAE3A" text-anchor="end" textLength="26.3" lengthAdjust="spacingAndGlyphs">6 – 10 days</text>
<text x="396.50" y="225.30" font-size="5.6" fill="#8FAE3A" text-anchor="middle">0</text>
<text x="418.24" y="225.30" font-size="5.6" fill="#8FAE3A" text-anchor="middle">0</text>
<text x="439.98" y="225.30" font-size="5.6" fill="#8FAE3A" text-anchor="middle">26</text>
<text x="461.72" y="225.30" font-size="5.6" fill="#8FAE3A" text-anchor="middle">44</text>
<text x="483.46" y="225.30" font-size="5.6" fill="#8FAE3A" text-anchor="middle">52</text>
<text x="505.20" y="225.30" font-size="5.6" fill="#8FAE3A" text-anchor="middle">61</text>
<line x1="386.10" y1="230.00" x2="389.20" y2="230.00" stroke="#000" stroke-width="1.3"/>
<text x="383.30" y="232.00" font-size="6.0" fill="#4DB8C6" text-anchor="end" textLength="28.9" lengthAdjust="spacingAndGlyphs">11 – 15 days</text>
<text x="396.50" y="232.00" font-size="5.6" fill="#4DB8C6" text-anchor="middle">0</text>
<text x="418.24" y="232.00" font-size="5.6" fill="#4DB8C6" text-anchor="middle">0</text>
<text x="439.98" y="232.00" font-size="5.6" fill="#4DB8C6" text-anchor="middle">6</text>
<text x="461.72" y="232.00" font-size="5.6" fill="#4DB8C6" text-anchor="middle">7</text>
<text x="483.46" y="232.00" font-size="5.6" fill="#4DB8C6" text-anchor="middle">9</text>
<text x="505.20" y="232.00" font-size="5.6" fill="#4DB8C6" text-anchor="middle">11</text>
<line x1="386.10" y1="236.70" x2="389.20" y2="236.70" stroke="#000" stroke-width="1.3"/>
<text x="383.30" y="238.70" font-size="6.0" fill="#A98AD6" text-anchor="end" textLength="22.6" lengthAdjust="spacingAndGlyphs">> 15 days</text>
<text x="396.50" y="238.70" font-size="5.6" fill="#A98AD6" text-anchor="middle">0</text>
<text x="418.24" y="238.70" font-size="5.6" fill="#A98AD6" text-anchor="middle">1</text>
<text x="439.98" y="238.70" font-size="5.6" fill="#A98AD6" text-anchor="middle">8</text>
<text x="461.72" y="238.70" font-size="5.6" fill="#A98AD6" text-anchor="middle">11</text>
<text x="483.46" y="238.70" font-size="5.6" fill="#A98AD6" text-anchor="middle">13</text>
<text x="505.20" y="238.70" font-size="5.6" fill="#A98AD6" text-anchor="middle">18</text>
<line x1="396.50" y1="241.00" x2="396.50" y2="244.00" stroke="#000" stroke-width="1.0"/>
<text x="396.50" y="251.70" font-size="5.6" fill="#222" text-anchor="middle">0</text>
<line x1="418.24" y1="241.00" x2="418.24" y2="244.00" stroke="#000" stroke-width="1.0"/>
<text x="418.24" y="251.70" font-size="5.6" fill="#222" text-anchor="middle">12</text>
<line x1="439.98" y1="241.00" x2="439.98" y2="244.00" stroke="#000" stroke-width="1.0"/>
<text x="439.98" y="251.70" font-size="5.6" fill="#222" text-anchor="middle">24</text>
<line x1="461.72" y1="241.00" x2="461.72" y2="244.00" stroke="#000" stroke-width="1.0"/>
<text x="461.72" y="251.70" font-size="5.6" fill="#222" text-anchor="middle">36</text>
<line x1="483.46" y1="241.00" x2="483.46" y2="244.00" stroke="#000" stroke-width="1.0"/>
<text x="483.46" y="251.70" font-size="5.6" fill="#222" text-anchor="middle">48</text>
<line x1="505.20" y1="241.00" x2="505.20" y2="244.00" stroke="#000" stroke-width="1.0"/>
<text x="505.20" y="251.70" font-size="5.6" fill="#222" text-anchor="middle">60</text>
<text x="449.90" y="262.50" font-size="8.8" fill="#3a3a3a" text-anchor="middle" textLength="12.9" lengthAdjust="spacingAndGlyphs">Time</text>
<line x1="159.10" y1="25.30" x2="166.00" y2="25.30" stroke="#D25A55" stroke-width="1.4"/>
<line x1="162.55" y1="25.30" x2="162.55" y2="27.40" stroke="#D25A55" stroke-width="1.0"/>
<text x="168.90" y="26.70" font-size="5.0" fill="#111" textLength="24.0" lengthAdjust="spacingAndGlyphs">0 – 5 days</text>
<line x1="214.60" y1="25.30" x2="221.50" y2="25.30" stroke="#6E9A10" stroke-width="1.4"/>
<line x1="218.05" y1="25.30" x2="218.05" y2="27.40" stroke="#6E9A10" stroke-width="1.0"/>
<text x="224.90" y="26.70" font-size="5.0" fill="#111" textLength="27.099999999999994" lengthAdjust="spacingAndGlyphs">6 – 10 days</text>
<line x1="273.00" y1="25.30" x2="280.80" y2="25.30" stroke="#2AAAB8" stroke-width="1.4"/>
<line x1="276.90" y1="25.30" x2="276.90" y2="27.40" stroke="#2AAAB8" stroke-width="1.0"/>
<text x="283.40" y="26.70" font-size="5.0" fill="#111" textLength="29.600000000000023" lengthAdjust="spacingAndGlyphs">11 – 15 days</text>
<line x1="334.60" y1="25.30" x2="341.50" y2="25.30" stroke="#A070D8" stroke-width="1.4"/>
<line x1="338.05" y1="25.30" x2="338.05" y2="27.40" stroke="#A070D8" stroke-width="1.0"/>
<text x="344.60" y="26.70" font-size="5.0" fill="#111" textLength="23.19999999999999" lengthAdjust="spacingAndGlyphs">> 15 days</text>
</svg></div></body></html>
